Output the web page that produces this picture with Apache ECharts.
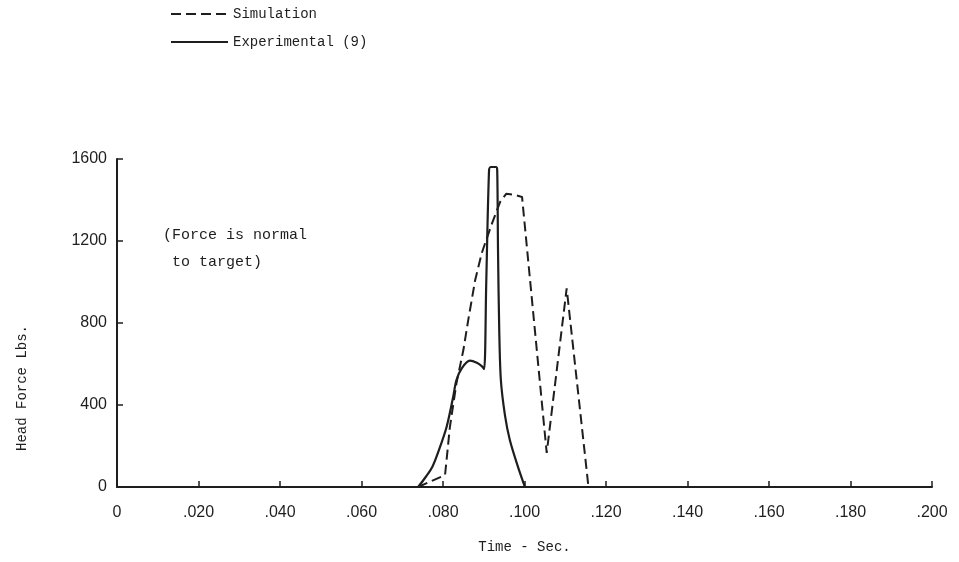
<!DOCTYPE html>
<html>
<head>
<meta charset="utf-8">
<script src="https://cdn.jsdelivr.net/npm/echarts@6/dist/echarts.min.js"></script>
<style>
html,body{margin:0;padding:0;background:#fff;}
#chart{width:959px;height:562px;}
</style>
</head>
<body>
<div id="chart"></div>
<script>
// Simulation (dashed)
var simTime  = [0.0739, 0.0805, 0.0817, 0.0833, 0.0850, 0.0862, 0.0879, 0.0895, 0.0906, 0.0921, 0.0940, 0.0955, 0.0975, 0.0994, 0.10545, 0.11035, 0.1157];
var simForce = [0,      58,     294,    506,    668,    815,    1010,   1140,   1205,   1290,   1390,   1430,   1425,   1415,   166,     969,     0];
// Experimental (solid)
var expTime  = [0.0739, 0.0758, 0.0774, 0.0790, 0.0809, 0.0825, 0.0833, 0.0846, 0.0866, 0.0883, 0.0895, 0.0901, 0.0906, 0.0913, 0.0917, 0.0930, 0.0933, 0.0935, 0.0938, 0.0942, 0.0952, 0.0964, 0.0984, 0.1001];
var expForce = [0,      50,     99,     180,    294,    440,    522,    579,    616,    606,    590,    575,    985,    1546,   1561,   1561,   1546,   1156,   766,    522,    351,    229,    98,     0];

var seriesNames = ['Simulation', 'Experimental (9)'];
var xTicks = [0, 0.2, 0.02];
var yTicks = [0, 1600, 400];

function pairs(a, b) { return a.map(function (v, i) { return [v, b[i]]; }); }

var mono = "'Liberation Mono', 'DejaVu Sans Mono', monospace";
var sans = "'Liberation Sans', 'DejaVu Sans', sans-serif";
var ink = '#1e1e1e';

var chart = echarts.init(document.getElementById('chart'), null, {renderer: 'canvas'});
chart.setOption({
  backgroundColor: '#ffffff',
  animation: false,
  legend: {
    orient: 'vertical',
    left: 165,
    top: 2,
    itemWidth: 57,
    itemHeight: 10,
    itemGap: 14,
    itemStyle: {opacity: 0},
    textStyle: {fontFamily: mono, fontSize: 14, color: ink},
    data: seriesNames
  },
  grid: {left: 117, right: 27, top: 159, bottom: 75},
  xAxis: {
    type: 'value',
    min: xTicks[0], max: xTicks[1], interval: xTicks[2],
    name: 'Time - Sec.',
    nameLocation: 'middle',
    nameGap: 53,
    nameTextStyle: {fontFamily: mono, fontSize: 14, color: ink},
    axisLine: {show: true, lineStyle: {color: ink, width: 2}},
    axisTick: {show: true, inside: true, length: 6, lineStyle: {color: ink, width: 1.5}},
    splitLine: {show: false},
    axisLabel: {
      margin: 18, fontFamily: sans, fontSize: 16, color: ink,
      formatter: function (v) { return v === 0 ? '0' : '.' + v.toFixed(3).split('.')[1]; }
    }
  },
  yAxis: {
    type: 'value',
    min: yTicks[0], max: yTicks[1], interval: yTicks[2],
    axisLine: {show: true, lineStyle: {color: ink, width: 2}},
    axisTick: {show: true, inside: true, length: 6, lineStyle: {color: ink, width: 1.5}},
    splitLine: {show: false},
    axisLabel: {
      margin: 10, fontFamily: sans, fontSize: 16, color: ink,
      formatter: function (v) { return String(v); }
    }
  },
  graphic: [
    {type: 'text', left: 163, top: 222, style: {text: '(Force is normal\n to target)', font: '15px ' + mono, fill: ink, lineHeight: 27}},
    {type: 'text', x: 22, y: 388, rotation: Math.PI / 2, style: {text: 'Head Force Lbs.', font: '14px ' + mono, fill: ink, align: 'center', verticalAlign: 'middle'}}
  ],
  series: [
    {
      name: seriesNames[0], type: 'line', showSymbol: false, symbol: 'none',
      data: pairs(simTime, simForce),
      lineStyle: {color: ink, width: 2, type: [10, 5]},
      itemStyle: {color: ink}
    },
    {
      name: seriesNames[1], type: 'line', showSymbol: false, symbol: 'none', smooth: 0.3,
      data: pairs(expTime, expForce),
      lineStyle: {color: ink, width: 2.2, type: 'solid'},
      itemStyle: {color: ink}
    }
  ]
});
</script>
</body>
</html>
